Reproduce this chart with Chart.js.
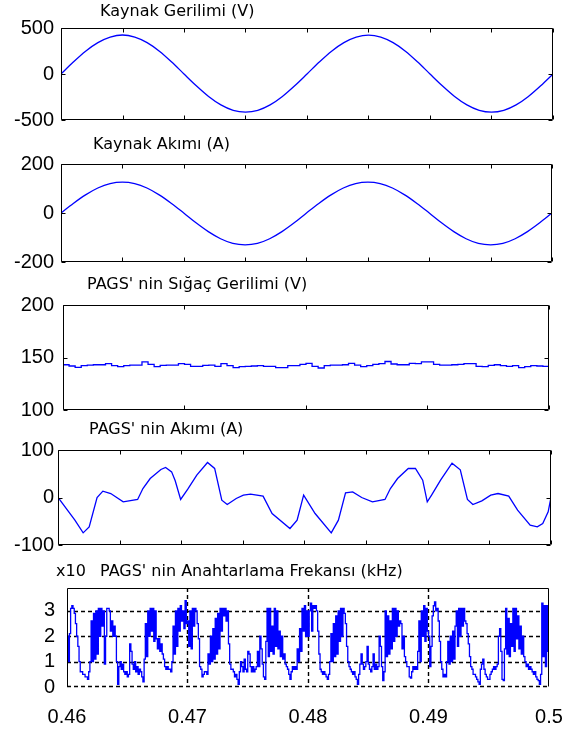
<!DOCTYPE html>
<html><head><meta charset="utf-8">
<script src="https://cdn.jsdelivr.net/npm/chart.js@4.4.1/dist/chart.umd.min.js"></script>
<style>
html,body{margin:0;padding:0;background:#fff;}
#wrap{position:relative;width:563px;height:732px;overflow:hidden;background:#fff;}
canvas{position:absolute;left:0;top:0;}
</style></head><body><div id="wrap">
<canvas id="c1" width="563" height="732"></canvas>
<canvas id="c2" width="563" height="732"></canvas>
<canvas id="c3" width="563" height="732"></canvas>
<canvas id="c4" width="563" height="732"></canvas>
<canvas id="c5" width="563" height="732"></canvas>
</div>
<script>
// ---------- DATA ----------
const xMin = 0.46, xMax = 0.5;
const xTicksFine = [0.46,0.465,0.47,0.475,0.48,0.485,0.49,0.495,0.5];
const xTicksCoarse = [0.46,0.47,0.48,0.49,0.5];
const xTickLabels = ['0.46','0.47','0.48','0.49','0.5'];

const titles = ['Kaynak Gerilimi (V)','Kaynak Akımı (A)',"PAGS' nin Sığaç Gerilimi (V)","PAGS' nin Akımı (A)","PAGS' nin Anahtarlama Frekansı (kHz)"];
const scaleNote = 'x10';

// source voltage / current, sampled every 1 ms from 0.46 s
const tSineStart = 0.46, tSineStep = 0.001;
const vSource = [0,130,248,341,401,424,401,341,248,130,0,-128,-244,-336,-395,-414,-395,-336,-244,-128,0,130,248,341,401,423,401,341,248,130,0,-128,-244,-336,-395,-415,-395,-336,-244,-128,0];
const iSource = [0,39,74,102,120,126,120,102,74,39,0,-40,-76,-105,-124,-130,-124,-105,-76,-40,0,39,74,102,120,126,120,102,74,39,0,-40,-76,-105,-124,-130,-124,-105,-76,-40,0];

// compensator capacitor voltage, every 0.5 ms
const tCapStart = 0.46, tCapStep = 0.0005;
const vCap = [143.1,141.9,140.6,142.2,142.8,143.1,143.1,144.1,142.2,141.3,
142.2,142.8,142.8,145.9,143.4,141.3,142.5,142.8,142.8,144.1,
143.4,141.6,141.6,142.5,142.8,141.6,144.1,142.2,140.3,141.3,
141.6,141.9,142.2,141.6,141.6,140.3,140.3,142.2,142.2,143.4,
144.4,141.6,140.0,142.2,142.8,142.8,143.1,144.4,142.8,141.3,
142.2,143.4,144.1,146.2,143.8,143.1,143.1,144.4,144.1,145.9,
145.9,143.4,142.8,142.8,143.1,143.4,144.1,144.1,141.6,141.3,
142.5,143.1,142.2,141.6,142.2,140.3,141.3,142.2,141.9,141.6,
143.1];

// compensator current (time, value)
const tComp = [0.46,0.46137,0.46204,0.46253,0.46317,0.46364,0.46428,0.46529,0.46646,0.46689,0.46748,0.46835,0.46873,0.46922,0.46951,0.46995,0.47053,0.47126,0.47213,0.47271,0.47329,0.47373,0.47446,0.47504,0.47562,0.47664,0.47737,0.47882,0.4794,0.47993,0.48086,0.48217,0.48275,0.48333,0.48391,0.48464,0.48551,0.48653,0.48697,0.48755,0.48842,0.489,0.48959,0.48996,0.49031,0.49104,0.49197,0.49264,0.49322,0.49366,0.49439,0.49511,0.4957,0.49657,0.49729,0.49831,0.49889,0.49933,0.49977,0.5];
const iComp = [0,-47.7,-74.4,-61.8,0,13.3,8.4,-9.1,-4.2,18.9,40.0,58.9,63.2,54.0,35.1,-4.2,17.5,47.0,73.7,61.1,-5.6,-14.7,-2.1,4.9,7.0,2.8,-33.7,-65.3,-47.7,4.9,-33.7,-74.4,-47.7,9.8,11.9,0,-9.1,-4.2,18.9,40.0,61.1,61.1,36.5,-9.1,4.9,36.5,72.3,58.2,-4.2,-14.7,-7.0,4.9,8.4,2.8,-26.7,-58.2,-61.8,-54.7,-30.2,0];

// switching frequency (x10 kHz), every 0.1 ms
const tSwStart = 0.46, tSwStep = 0.0001;
const fSw = [
2.0,1.0,2.1,3.1,3.2,3.1,2.9,2.5,2.0,1.6, 1.0,0.6,0.6,0.5,0.5,0.4,0.4,0.3,0.6,1.0,
2.6,1.0,2.9,1.1,3.0,1.3,3.1,2.0,3.1,2.4, 3.0,0.9,2.0,3.1,3.1,3.0,2.2,2.6,2.0,2.4,
2.0,1.0,0.1,0.8,1.0,0.7,0.9,0.6,0.5,0.6, 0.4,0.5,1.7,1.4,0.9,0.7,1.0,0.6,0.8,0.5,
0.7,0.6,0.4,0.2,1.1,2.5,1.2,3.0,2.0,3.1, 2.2,3.1,1.8,3.0,1.9,1.5,1.9,1.4,1.7,1.3,
1.1,0.8,0.7,0.8,0.7,0.7,0.6,1.0,2.4,1.3, 3.0,1.6,3.1,2.2,3.2,2.6,3.0,2.3,3.4,2.5,
2.6,1.6,3.0,1.5,3.1,2.4,3.1,3.0,2.5,1.9, 0.8,0.7,0.4,0.5,0.6,0.6,0.5,1.3,0.9,2.0,
1.0,2.3,1.1,2.7,1.3,2.9,1.5,3.1,2.2,3.1, 2.8,3.1,2.6,3.0,1.7,0.9,0.7,0.7,0.6,0.4,
0.5,0.3,0.1,0.6,1.0,0.8,0.6,1.1,0.7,0.6, 1.4,1.3,0.8,0.6,0.8,0.6,0.7,0.8,1.4,0.8,
2.0,1.5,0.9,0.4,0.3,1.8,3.1,1.2,3.1,1.4, 2.4,1.3,3.1,1.6,3.0,1.5,2.2,1.2,2.0,1.1,
1.3,0.9,0.8,0.7,0.5,0.3,0.6,0.8,0.7,0.8, 0.7,1.5,1.0,2.3,1.4,3.1,2.2,3.2,2.0,3.0,
2.0,3.0,3.3,2.2,3.2,3.1,3.2,3.0,2.2,1.3, 0.7,0.6,0.5,0.6,0.5,0.4,0.3,0.5,1.0,2.1,
1.0,2.5,1.2,2.8,1.3,3.0,1.8,3.1,2.0,3.1, 2.9,2.5,1.6,1.0,0.8,0.7,0.6,0.5,0.6,0.4,
0.3,0.1,0.5,0.9,1.3,0.9,0.7,0.8,1.0,1.6, 0.9,0.7,0.6,0.8,1.3,0.7,0.9,0.7,0.8,2.0,
1.6,0.8,0.25,0.6,3.0,1.2,2.8,1.3,2.6,1.5, 3.1,1.8,3.1,2.0,3.0,2.4,2.6,2.5,1.5,2.0,
1.2,1.0,0.8,0.8,0.4,0.35,0.6,0.8,0.7,0.8, 0.7,1.4,2.6,1.0,3.0,2.0,3.2,1.8,3.1,2.2,
2.0,0.8,1.6,2.8,3.2,3.35,3.0,3.1,2.6,1.8, 1.0,0.7,0.4,0.5,0.4,1.0,1.8,0.9,2.0,1.0,
2.2,1.1,2.4,3.0,1.6,3.1,2.0,3.1,2.4,3.1, 2.6,2.5,2.1,1.7,1.2,0.8,0.7,0.5,0.5,0.4,
0.3,0.2,0.1,0.7,0.9,1.1,0.7,0.5,0.4,0.3, 0.3,0.5,0.6,0.7,0.8,0.7,0.8,0.9,2.0,2.3,
1.4,0.3,0.25,1.5,3.1,1.3,2.7,1.2,2.5,1.6, 3.1,1.4,3.1,1.9,2.8,1.5,2.4,1.3,2.0,1.2,
1.0,0.8,0.9,0.7,0.8,0.7,0.6,0.5,0.6,0.4, 0.3,0.25,0.1,0.5,3.3,1.2,3.2,0.8,3.2,1.4,
2.3];

// y-axis ticks
const y1Ticks = [-500,0,500], y1Labels = ['-500','0','500'];
const y2Ticks = [-200,0,200], y2Labels = ['-200','0','200'];
const y3Ticks = [100,150,200], y3Labels = ['100','150','200'];
const y4Ticks = [-100,0,100], y4Labels = ['-100','0','100'];
const y5Ticks = [0,1,2,3], y5Labels = ['0','1','2','3'], y5Max = 3.9;

// ---------- RENDER ----------
const W = 563, H = 732;
const TICK_FONT = {family: 'Liberation Sans, Arial, sans-serif', size: 20};
const TITLE_FONT = '16px "DejaVu Sans", sans-serif';

const decor = {
  id: 'decor',
  beforeDatasetsDraw(chart, args, o) {
    if (!o.gridX && !o.gridY) return;
    const {ctx, chartArea: a} = chart; const x = chart.scales.x, y = chart.scales.y;
    ctx.save();
    ctx.strokeStyle = '#000'; ctx.lineWidth = 1.4; ctx.setLineDash([4,3]);
    ctx.beginPath();
    (o.gridX||[]).forEach(v => { const p = Math.round(x.getPixelForValue(v)) + 0.5; ctx.moveTo(p, a.top); ctx.lineTo(p, a.bottom); });
    (o.gridY||[]).forEach(v => { let p = Math.round(y.getPixelForValue(v)) + 0.5; if (p > a.bottom - 1) p = a.bottom - 0.5; ctx.moveTo(a.left, p); ctx.lineTo(a.right, p); });
    ctx.stroke(); ctx.restore();
  },
  afterDatasetsDraw(chart, args, o) {
    const {ctx, chartArea: a} = chart; const x = chart.scales.x, y = chart.scales.y;
    const L = Math.round(a.left)+0.5, R = Math.round(a.right)-0.5, T = Math.round(a.top)+0.5, B = Math.round(a.bottom)-0.5;
    ctx.save(); ctx.strokeStyle = '#000'; ctx.lineWidth = 1; ctx.setLineDash([]);
    ctx.beginPath();
    ctx.moveTo(L, B); ctx.lineTo(L, T); ctx.lineTo(R, T); ctx.lineTo(R, B);
    if (!o.openBottom) ctx.lineTo(L, B);
    const tl = 4;
    (o.ticksX||[]).forEach(v => { const p = Math.round(x.getPixelForValue(v))+0.5; ctx.moveTo(p,T); ctx.lineTo(p,T+tl); ctx.moveTo(p,B); ctx.lineTo(p,B-tl); });
    (o.ticksY||[]).forEach(v => { const p = Math.round(y.getPixelForValue(v))+0.5; ctx.moveTo(L,p); ctx.lineTo(L+tl,p); ctx.moveTo(R,p); ctx.lineTo(R-tl,p); });
    ctx.stroke();
    ctx.fillStyle = '#000'; ctx.textBaseline = 'middle'; ctx.textAlign = 'left'; ctx.font = TITLE_FONT;
    (o.texts||[]).forEach(t => ctx.fillText(t.text, t.x, t.y));
    ctx.restore();
  }
};

function series(start, step, vals) { return vals.map((v, i) => ({x: start + i*step, y: v})); }
function pairs(ts, vs) { return ts.map((t, i) => ({x: t, y: vs[i]})); }

const panels = [
  {id:'c1', box:{l:61,r:553,t:28,b:120}, pad:7, y:[-500,500,y1Ticks,y1Labels], data: series(tSineStart,tSineStep,vSource), smooth:true,
   deco:{ticksX:xTicksFine, ticksY:y1Ticks, texts:[{text:titles[0],x:100,y:12}]}},
  {id:'c2', box:{l:61,r:552,t:164,b:262}, pad:7, y:[-200,200,y2Ticks,y2Labels], data: series(tSineStart,tSineStep,iSource), smooth:true,
   deco:{ticksX:xTicksFine, ticksY:y2Ticks, texts:[{text:titles[1],x:93,y:145}]}},
  {id:'c3', box:{l:63,r:549,t:305,b:410}, pad:9, y:[100,200,y3Ticks,y3Labels], data: series(tCapStart,tCapStep,vCap), stepped:true,
   deco:{ticksX:xTicksCoarse, ticksY:y3Ticks, texts:[{text:titles[2],x:87,y:285}]}},
  {id:'c4', box:{l:58,r:551,t:450,b:545}, pad:4, y:[-100,100,y4Ticks,y4Labels], data: pairs(tComp,iComp),
   deco:{ticksX:xTicksFine, ticksY:y4Ticks, texts:[{text:titles[3],x:89,y:430}]}},
  {id:'c5', box:{l:67,r:549,t:588,b:687}, pad:12, y:[0,y5Max,y5Ticks,y5Labels], data: series(tSwStart,tSwStep,fSw), stepped:true, xAxis:true,
   deco:{gridX:[0.47,0.48,0.49], gridY:y5Ticks, openBottom:true, texts:[{text:scaleNote,x:56,y:572},{text:titles[4],x:100,y:572}]}}
];

panels.forEach(p => {
  const [ymin, ymax, yt, yl] = p.y;
  new Chart(document.getElementById(p.id), {
    type: 'line',
    data: { datasets: [{
      data: p.data, borderColor: '#0000ff', borderWidth: 1.3, pointRadius: 0, fill: false,
      tension: p.smooth ? 0.4 : 0, cubicInterpolationMode: p.smooth ? 'monotone' : 'default', stepped: p.stepped ? true : false
    }]},
    options: {
      responsive: false, animation: false, events: [],
      layout: { padding: { left: 0, right: W - p.box.r, top: p.box.t, bottom: p.xAxis ? 0 : H - p.box.b } },
      scales: {
        x: {
          type: 'linear', min: xMin, max: xMax, display: !!p.xAxis,
          afterBuildTicks: s => { s.ticks = xTicksCoarse.map(v => ({value: v})); },
          afterFit: s => { if (p.xAxis) { s.height = H - p.box.b; } else { s.height = 0; } s.paddingLeft = 0; s.paddingRight = 0; },
          grid: { display: false, drawTicks: false }, border: { display: false },
          ticks: { autoSkip: false, maxRotation: 0, padding: 18, color: '#000', font: TICK_FONT,
                   callback: (v, i) => xTickLabels[i] }
        },
        y: {
          type: 'linear', min: ymin, max: ymax,
          afterBuildTicks: s => { s.ticks = yt.map(v => ({value: v})); },
          afterFit: s => { s.width = p.box.l; s.paddingTop = 0; s.paddingBottom = 0; },
          grid: { display: false, drawTicks: false }, border: { display: false },
          ticks: { padding: p.pad, color: '#000', font: TICK_FONT, callback: (v, i) => yl[i] }
        }
      },
      plugins: { legend: {display: false}, tooltip: {enabled: false}, title: {display: false}, decor: p.deco }
    },
    plugins: [decor]
  });
});
</script></body></html>
